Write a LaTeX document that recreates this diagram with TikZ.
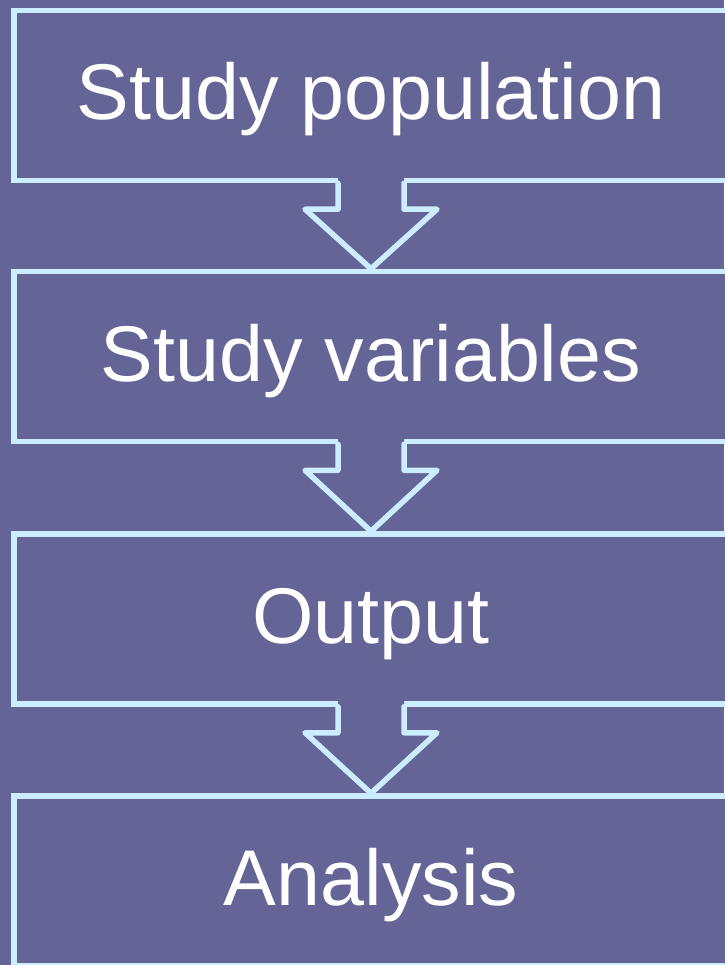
\documentclass[tikz,border=0pt]{standalone}
\usepackage{fontspec}
\setmainfont{Liberation Sans}
\usetikzlibrary{calc}

\definecolor{slidebg}{RGB}{100,100,150}
\definecolor{edgeblue}{RGB}{204,236,255}

\begin{document}
\begin{tikzpicture}[
  x=1pt, y=-1pt,
  stage/.style={draw=edgeblue, line width=5.5pt, fill=slidebg, minimum width=714pt,
                minimum height=170pt, inner sep=0pt, text=white,
                text height=49pt, text depth=0pt,
                font=\fontsize{79}{95}\selectfont},
  flow/.style={draw=edgeblue, line width=5.5pt, line join=round, line cap=round}
]
\fill[slidebg] (0,0) rectangle (724,965);
\useasboundingbox (0,0) rectangle (724,965);

\node[stage] (pop) at (371,95.5) {Study population};
\node[stage] (var) at (371,356.5) {Study variables};
\node[stage] (outp) at (371,619) {Output};
\node[stage] (ana) at (371,881) {Analysis};

% hollow block arrows between the stages
\foreach \a/\b in {pop/var, var/outp, outp/ana} {
  \fill[slidebg] ($(\a.south)+(-33,-10)$) -- ($(\a.south)+(-33,26)$)
    -- ($(\a.south)+(-66,26)$) -- (\b.north) -- ($(\a.south)+(66,26)$)
    -- ($(\a.south)+(33,26)$) -- ($(\a.south)+(33,-10)$) -- cycle;
  \draw[flow] ($(\a.south)+(-33,0)$) -- ($(\a.south)+(-33,26)$)
    -- ($(\a.south)+(-66,26)$) -- (\b.north) -- ($(\a.south)+(66,26)$)
    -- ($(\a.south)+(33,26)$) -- ($(\a.south)+(33,0)$);
}

\end{tikzpicture}
\end{document}
